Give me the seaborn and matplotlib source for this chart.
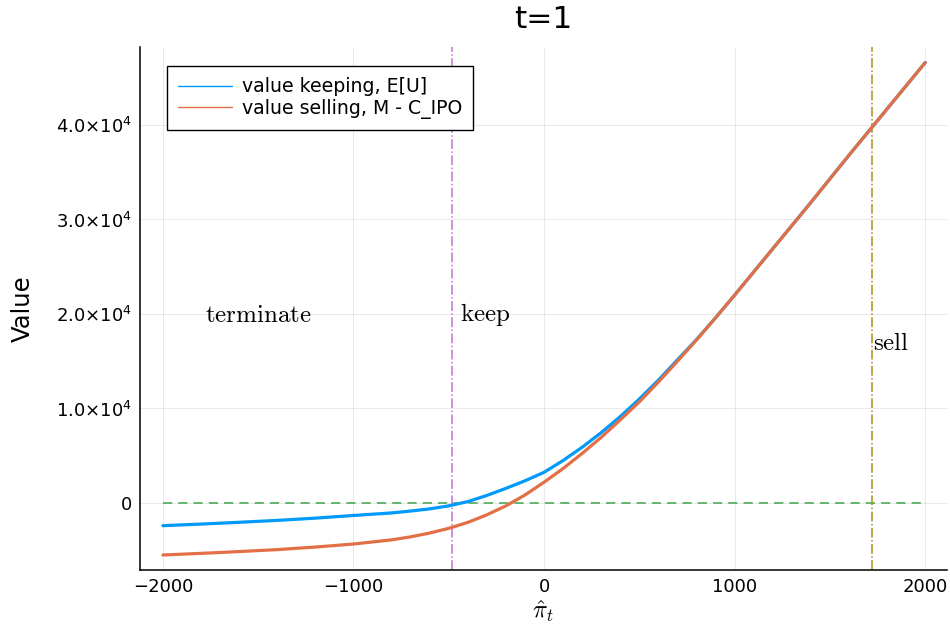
import numpy as np
import pandas as pd
import matplotlib
matplotlib.use("Agg")
import matplotlib.pyplot as plt
from matplotlib.lines import Line2D
import seaborn as sns

pi_hat = [-2000, -1800, -1600, -1400, -1200, -1000, -800, -700, -600, -500, -400, -300,
          -200, -100, 0, 100, 200, 300, 400, 500, 600, 700, 800, 900, 1000,
          1200, 1400, 1600, 1800, 2000]
value_keep = [-2400, -2230, -2040, -1840, -1600, -1320, -1050, -850, -620, -300, 150, 800,
              1550, 2350, 3250, 4500, 5900, 7450, 9150, 11000, 13000, 15150, 17300, 19600, 22000,
              26900, 31800, 36800, 41700, 46600]
value_sell = [-5500, -5330, -5140, -4930, -4660, -4340, -3900, -3580, -3180, -2680, -2050, -1250,
              -300, 850, 2200, 3650, 5250, 6950, 8800, 10700, 12800, 15000, 17250, 19600, 22000,
              26900, 31800, 36800, 41700, 46600]
series_names = ["value keeping, E[U]", "value selling, M - C_IPO"]
zero_x = [-2000, 2000]
zero_y = [0, 0]
keep_threshold = -483
sell_threshold = 1722
y_ticks = [0, 10000, 20000, 30000, 40000]
y_tick_labels = ["0", r"$1.0{\times}10^{4}$", r"$2.0{\times}10^{4}$",
                 r"$3.0{\times}10^{4}$", r"$4.0{\times}10^{4}$"]
x_ticks = [-2000, -1000, 0, 1000, 2000]

c_blue = "#009AFA"
c_orange = "#E36F47"
c_green = "#3EA44E"
c_purple = "#C271D2"
c_gold = "#AC8D18"

df = pd.DataFrame({
    "pi": pi_hat * 2,
    "value": value_keep + value_sell,
    "series": [series_names[0]] * len(pi_hat) + [series_names[1]] * len(pi_hat),
})

sns.set_style("white")
plt.rcParams["font.family"] = ["DejaVu Sans"]
plt.rcParams["mathtext.fontset"] = "dejavusans"
plt.rcParams["text.color"] = "black"
plt.rcParams["axes.labelcolor"] = "black"
plt.rcParams["xtick.color"] = "black"
plt.rcParams["ytick.color"] = "black"

fig = plt.figure(figsize=(9.5, 6.33), dpi=100)
ax = fig.add_axes([0.1474, 0.0995, 0.8496, 0.8263])

sns.lineplot(data=df, x="pi", y="value", hue="series",
             palette={series_names[0]: c_blue, series_names[1]: c_orange},
             linewidth=2.3, legend=False, ax=ax, sort=False)

ax.plot(zero_x, zero_y, color=c_green, linestyle=(0, (6, 4)), linewidth=1.1, zorder=1)
ax.axvline(keep_threshold, color=c_purple, linestyle="-.", linewidth=1.1, zorder=1)
ax.axvline(sell_threshold, color=c_gold, linestyle="-.", linewidth=1.1, zorder=1)

ax.set_xlim(-2120, 2115)
ax.set_ylim(-7090, 48250)

ax.set_xticks(x_ticks)
ax.set_yticks(y_ticks)
ax.set_yticklabels(y_tick_labels)
ax.tick_params(axis="both", direction="in", length=4, width=1, labelsize=13,
               colors="black", pad=6)
ax.grid(True, color="#000000", alpha=0.1, linewidth=0.6)
for s in ["top", "right"]:
    ax.spines[s].set_visible(False)
for s in ["left", "bottom"]:
    ax.spines[s].set_color("black")
    ax.spines[s].set_linewidth(1.1)

ax.set_title("t=1", fontsize=22.5, pad=14, color="black")
ax.set_ylabel("Value", fontsize=17.5, labelpad=15, color="black")
ax.set_xlabel(r"$\hat{\pi}_t$", fontsize=17.5, math_fontfamily="cm", labelpad=1, color="black")

ax.text(-1500, 19900, r"$\mathrm{terminate}$", fontsize=18, math_fontfamily="cm",
        ha="center", va="center", color="black")
ax.text(keep_threshold + 40, 19900, r"$\mathrm{keep}$", fontsize=18, math_fontfamily="cm",
        ha="left", va="center", color="black")
ax.text(sell_threshold + 5, 16900, r"$\mathrm{sell}$", fontsize=18, math_fontfamily="cm",
        ha="left", va="center", color="black")

handles = [Line2D([0], [0], color=c_blue, linewidth=1.0),
           Line2D([0], [0], color=c_orange, linewidth=1.0)]
leg = ax.legend(handles, series_names, loc="upper left", bbox_to_anchor=(0.0335, 0.9637),
                borderaxespad=0, fontsize=13.6, frameon=True, fancybox=False, framealpha=1,
                edgecolor="black", handlelength=2.85, borderpad=0.6, labelspacing=0.12,
                handletextpad=0.5, labelcolor="black")
leg.get_frame().set_linewidth(1.0)

fig.savefig("out.png", dpi=100)
